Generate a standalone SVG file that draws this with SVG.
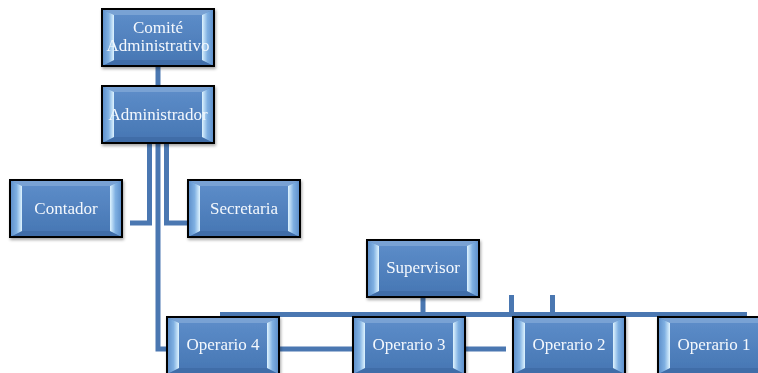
<svg xmlns="http://www.w3.org/2000/svg" xmlns:xlink="http://www.w3.org/1999/xlink" width="758" height="373" viewBox="0 0 758 373">
<style>
.c{fill:none;stroke:#4a77b1;stroke-width:5}
.t{font-family:"Liberation Serif","Times New Roman",serif;font-size:17px;fill:#f4f8fd;text-anchor:middle}
</style>
<defs>
<filter id="sh" x="-10%" y="-10%" width="130%" height="140%">
<feDropShadow dx="1" dy="2" stdDeviation="1.5" flood-color="#000" flood-opacity="0.35"/>
</filter>
<linearGradient id="gl" x1="0" y1="0" x2="1" y2="0">
<stop offset="0" stop-color="#5a8cc8"/>
<stop offset="0.55" stop-color="#7fb0e2"/>
<stop offset="1" stop-color="#dff4ff"/>
</linearGradient>
<linearGradient id="gr" x1="1" y1="0" x2="0" y2="0">
<stop offset="0" stop-color="#5a8cc8"/>
<stop offset="0.55" stop-color="#7fb0e2"/>
<stop offset="1" stop-color="#dff4ff"/>
</linearGradient>
<linearGradient id="gf" x1="0" y1="0" x2="0" y2="1">
<stop offset="0" stop-color="#5c8cc8"/>
<stop offset="1" stop-color="#4878b5"/>
</linearGradient>
<g id="box">
<rect x="0" y="0" width="112" height="57" fill="#4f81bd"/>
<polygon points="0,0 112,0 100,6 12,6" fill="#79a2d4"/>
<polygon points="0,57 112,57 100,51 12,51" fill="#3f6da8"/>
<polygon points="0,0 12,6 12,51 0,57" fill="url(#gl)"/>
<polygon points="112,0 100,6 100,51 112,57" fill="url(#gr)"/>
<rect x="12" y="6" width="88" height="45" fill="url(#gf)"/>
<rect x="0" y="0" width="112" height="57" fill="none" stroke="#000" stroke-width="2"/>
</g>
</defs>
<rect width="758" height="373" fill="#fff"/>
<g id="connectors">
<path class="c" d="M158,65 V86" stroke-width="6"/>
<path class="c" d="M149.5,143 V223 H130"/>
<path class="c" d="M166.5,143 V223 H188"/>
<path class="c" d="M158,143 V349 H506"/>
<path class="c" d="M423,297 V314"/>
<path class="c" d="M220,314.5 H747"/>
<path class="c" d="M511.5,295 V314"/>
<path class="c" d="M552.5,295 V314"/>
</g>
<g id="n-comite" filter="url(#sh)"><use xlink:href="#box" x="102" y="9"/><text class="t" x="158" y="33">Comité</text><text class="t" x="158" y="51">Administrativo</text></g>
<g id="n-administrador" filter="url(#sh)"><use xlink:href="#box" x="102" y="86"/><text class="t" x="158" y="120">Administrador</text></g>
<g id="n-contador" filter="url(#sh)"><use xlink:href="#box" x="10" y="180"/><text class="t" x="66" y="214">Contador</text></g>
<g id="n-secretaria" filter="url(#sh)"><use xlink:href="#box" x="188" y="180"/><text class="t" x="244" y="214">Secretaria</text></g>
<g id="n-supervisor" filter="url(#sh)"><use xlink:href="#box" x="367" y="240"/><text class="t" x="423" y="273">Supervisor</text></g>
<g id="n-operario4" filter="url(#sh)"><use xlink:href="#box" x="167" y="317"/><text class="t" x="223" y="350">Operario 4</text></g>
<g id="n-operario3" filter="url(#sh)"><use xlink:href="#box" x="353" y="317"/><text class="t" x="409" y="350">Operario 3</text></g>
<g id="n-operario2" filter="url(#sh)"><use xlink:href="#box" x="513" y="317"/><text class="t" x="569" y="350">Operario 2</text></g>
<g id="n-operario1" filter="url(#sh)"><use xlink:href="#box" x="658" y="317"/><text class="t" x="714" y="350">Operario 1</text></g>
</svg>
